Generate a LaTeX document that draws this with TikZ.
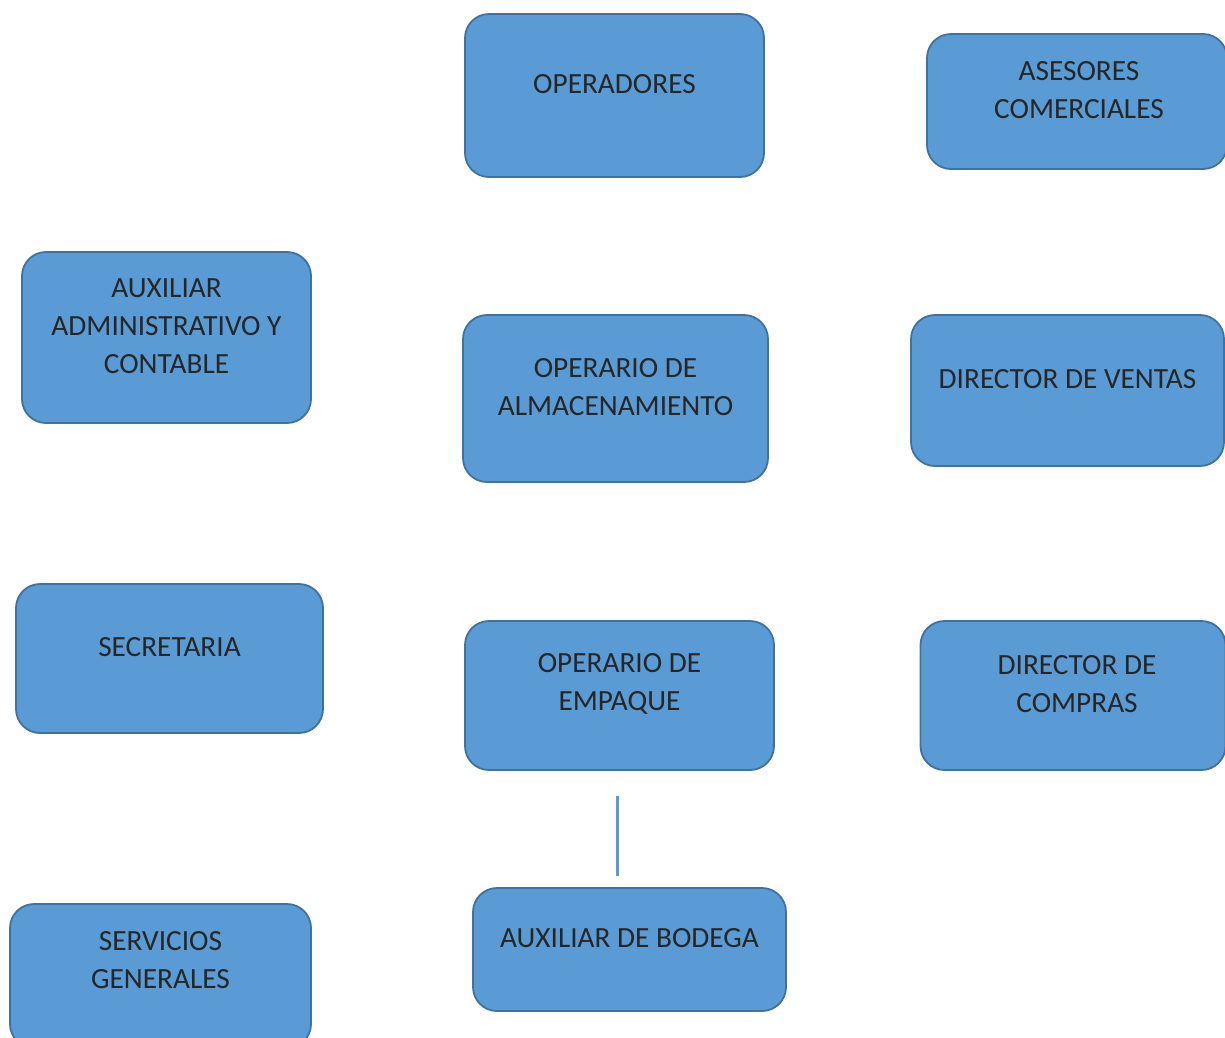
\documentclass[tikz,border=0pt]{standalone}
\usepackage{fontspec}
\setmainfont{Carlito}
\definecolor{boxfill}{HTML}{5B9BD5}
\definecolor{boxline}{HTML}{41719C}
\begin{document}
\begin{tikzpicture}[x=1pt,y=-1pt,
  box/.style={draw=boxline, line width=1.8pt, fill=boxfill, rounded corners=24pt, inner sep=0pt, rectangle},
  lbl/.style={font=\fontsize{29.3}{38}\selectfont, align=center, text=black!85, inner sep=0pt},
  conn/.style={draw=boxfill, line width=3pt}]
\clip (0,0) rectangle (1225,1037);
\useasboundingbox (0,0) rectangle (1225,1037);
% boxes: center, width, height
\node[box, minimum width=299pt, minimum height=163pt] (ops) at (614.5,95.5) {};
\node[lbl] (ops-t) at (614.5,84) {OPERADORES};
\node[box, minimum width=300pt, minimum height=135pt] (ase) at (1077,101.5) {};
\node[lbl] (ase-t) at (1079,90) {ASESORES\\COMERCIALES};
\node[box, minimum width=289pt, minimum height=171pt] (aux) at (166.5,337.5) {};
\node[lbl] (aux-t) at (166.5,326) {AUXILIAR\\ADMINISTRATIVO Y\\CONTABLE};
\node[box, minimum width=305pt, minimum height=167pt] (alm) at (615.5,398.5) {};
\node[lbl] (alm-t) at (615.5,387) {OPERARIO DE\\ALMACENAMIENTO};
\node[box, minimum width=313pt, minimum height=151pt] (ven) at (1067.5,390.5) {};
\node[lbl] (ven-t) at (1067.5,379) {DIRECTOR DE VENTAS};
\node[box, minimum width=307pt, minimum height=149pt] (sec) at (169.5,658.5) {};
\node[lbl] (sec-t) at (169.5,647) {SECRETARIA};
\node[box, minimum width=309pt, minimum height=149pt] (emp) at (619.5,695.5) {};
\node[lbl] (emp-t) at (619.5,684) {OPERARIO DE\\EMPAQUE};
\node[box, minimum width=305pt, minimum height=149pt] (com) at (1073,695.5) {};
\node[lbl] (com-t) at (1077,684) {DIRECTOR DE\\COMPRAS};
\node[box, minimum width=301pt, minimum height=144pt] (ser) at (160.5,976) {};
\node[lbl] (ser-t) at (160.5,960.5) {SERVICIOS\\GENERALES};
\node[box, minimum width=313pt, minimum height=123pt] (bod) at (629.5,949.5) {};
\node[lbl] (bod-t) at (629.5,938) {AUXILIAR DE BODEGA};
% connector (free-standing segment between the two boxes)
\coordinate (c1) at (617,796);
\coordinate (c2) at (617,876);
\draw[conn] (c1) -- (c2);
\end{tikzpicture}
\end{document}
